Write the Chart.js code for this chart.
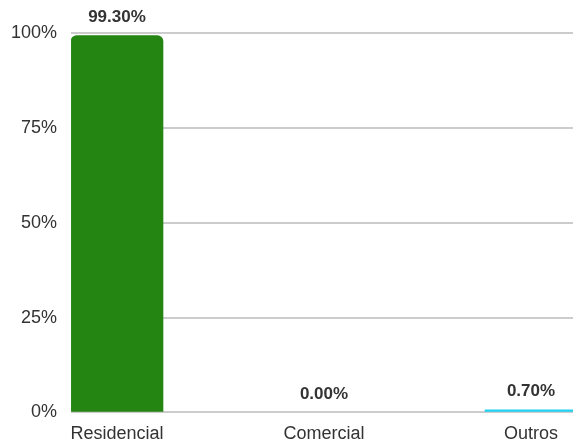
<!DOCTYPE html>
<html>
<head>
<meta charset="utf-8">
<script src="https://cdn.jsdelivr.net/npm/chart.js@4/dist/chart.umd.min.js"></script>
<style>
  html, body { margin: 0; padding: 0; background: #fff; overflow: hidden; }
  #wrap { width: 573px; height: 442px; overflow: hidden; }
</style>
</head>
<body>
<div id="wrap"><canvas id="chart" width="573" height="448"></canvas></div>
<script>
// values
const categories = ['Residencial', 'Comercial', 'Outros'];
const shares = [99.3, 0.0, 0.7];
const barColors = ['#248512', 'rgba(0,0,0,0)', '#1fd2f2'];
const yTicks = [0, 25, 50, 75, 100];

// bar labels drawn on top of each bar, like a datalabels plugin would
const topLabels = {
  id: 'topLabels',
  afterDatasetsDraw(chart) {
    const ctx = chart.ctx;
    const meta = chart.getDatasetMeta(0);
    ctx.save();
    ctx.font = 'bold 17px "Liberation Sans", Arial, sans-serif';
    ctx.fillStyle = '#333';
    ctx.textAlign = 'center';
    ctx.textBaseline = 'bottom';
    meta.data.forEach((bar, i) => {
      ctx.fillText(shares[i].toFixed(2) + '%', bar.x, bar.y - 10);
    });
    ctx.restore();
  }
};

new Chart(document.getElementById('chart'), {
  type: 'bar',
  data: {
    datasets: [{
      data: shares.map((v, i) => ({ x: i, y: v })),
      backgroundColor: barColors,
      borderRadius: { topLeft: 6, topRight: 6 },
      borderSkipped: 'bottom',
      barThickness: 92
    }]
  },
  options: {
    responsive: false,
    animation: false,
    layout: { padding: { top: 33, right: 0, left: -3, bottom: 0 } },
    plugins: { legend: { display: false }, tooltip: { enabled: false } },
    scales: {
      x: {
        type: 'linear',
        offset: false,
        min: -0.222,
        max: 2.203,
        grid: { display: false, offset: false },
        border: { display: false },
        ticks: {
          stepSize: 1,
          includeBounds: false,
          autoSkip: false,
          maxRotation: 0,
          padding: 3,
          color: '#333',
          font: { family: '"Liberation Sans", Arial, sans-serif', size: 18 },
          callback: v => Number.isInteger(v) ? categories[v] : ''
        }
      },
      y: {
        min: 0,
        max: 100,
        afterBuildTicks: axis => { axis.ticks = yTicks.map(v => ({ value: v })); },
        grid: { color: '#cccccc', lineWidth: 2, drawTicks: false },
        border: { display: false },
        ticks: {
          padding: 14,
          color: '#333',
          font: { family: '"Liberation Sans", Arial, sans-serif', size: 18 },
          callback: v => v + '%'
        }
      }
    }
  },
  plugins: [topLabels]
});
</script>
</body>
</html>
